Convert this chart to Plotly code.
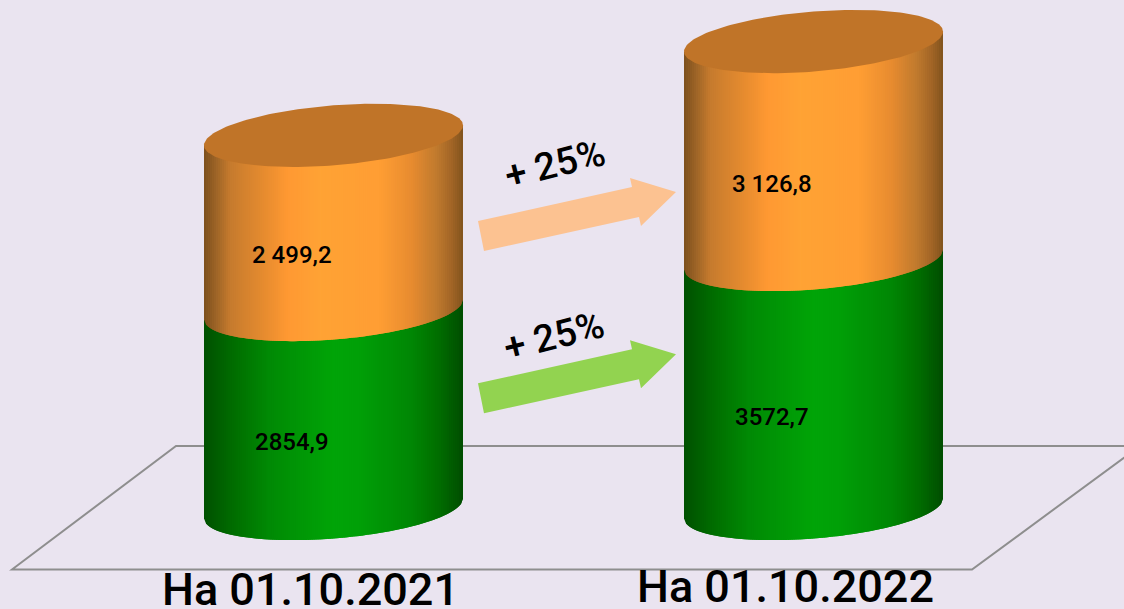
import numpy as np
import plotly.graph_objects as go

# ---- data ----
categories = ["На 01.10.2021", "На 01.10.2022"]
green_values = [2854.9, 3572.7]
orange_values = [2499.2, 3126.8]
green_labels = ["2854,9", "3572,7"]
orange_labels = ["2 499,2", "3 126,8"]
growth_labels = ["+ 25%", "+ 25%"]

# ---- layout constants ----
W, H = 1124, 609
BG = "#EAE4F0"
PX_PER_UNIT = 0.0697
BASE_PX = 508.5
CAT0_PX, CAT_STEP_PX = 333.5, 480.0
HALF_W = 129.5 / CAT_STEP_PX
B = 30 / PX_PER_UNIT       # ellipse half-height (value units)
S = 10 / PX_PER_UNIT       # ellipse tilt (value units)
N = 130

ORANGE_STOPS = [(0, (125, 80, 30)), (.05, (160, 102, 40)), (.1, (198, 123, 46)), (.25, (235, 142, 48)),
                (.32, (255, 153, 51)), (.45, (255, 163, 53)), (.68, (255, 158, 52)), (.8, (232, 140, 48)),
                (.9, (192, 122, 46)), (.96, (160, 100, 38)), (1, (130, 84, 30))]
GREEN_STOPS = [(0, (0, 80, 0)), (.1, (0, 107, 0)), (.25, (0, 138, 5)), (.5, (0, 165, 8)), (.6, (0, 160, 8)),
               (.8, (0, 135, 5)), (.9, (0, 112, 0)), (1, (0, 78, 0))]
TOP_COLOR = "#C07428"


def ramp(stops, t):
    xs = [p[0] for p in stops]
    return "rgb(%d,%d,%d)" % tuple(np.interp(t, xs, [p[1][k] for p in stops]) for k in range(3))


fig = go.Figure()


def side(cx, y0, y1, stops):
    """Shaded cylinder wall between the value levels y0 and y1."""
    edges = np.linspace(-1, 1, N + 1)
    for i in range(N):
        j = min(i + 2, N)
        u = np.array([edges[i], edges[(i + j) // 2], edges[j]])
        low = y0 + S * u - B * np.sqrt(np.clip(1 - u ** 2, 0, 1))
        up = y1 + S * u
        xs = cx + HALF_W * u
        fig.add_trace(go.Scatter(
            x=np.r_[xs, xs[::-1], xs[0]], y=np.r_[low, up[::-1], low[0]],
            mode="lines", line=dict(width=0), fill="toself",
            fillcolor=ramp(stops, (edges[i] + edges[i + 1]) / 4 + .5),
            hoverinfo="skip", showlegend=False))


def cap(cx, y, color):
    t = np.linspace(0, 2 * np.pi, 181)
    fig.add_trace(go.Scatter(
        x=cx + HALF_W * np.cos(t), y=y + S * np.cos(t) + B * np.sin(t),
        mode="lines", line=dict(width=0), fill="toself", fillcolor=color,
        hoverinfo="skip", showlegend=False))


for k in range(len(categories)):
    g, o = green_values[k], orange_values[k]
    side(k, 0, g, GREEN_STOPS)
    side(k, g, g + o, ORANGE_STOPS)
    cap(k, g + o, TOP_COLOR)
    for y, txt in ((g / 2, green_labels[k]), (g + o / 2, orange_labels[k])):
        fig.add_annotation(x=k, y=y, text=txt, showarrow=False, xshift=-42, yshift=-33,
                           font=dict(family="Roboto", size=24, color="black", weight=500))


def px(x, y):
    return x / W, 1 - y / H


def path(points):
    s = []
    for i, (x, y) in enumerate(points):
        a, b = px(x, y)
        s.append(("M" if i == 0 else "L") + f"{a:.5f},{b:.5f}")
    return " ".join(s)


shapes = [
    dict(type="path", xref="paper", yref="paper", layer="below",
         path=path([(12, 569.5), (176, 446), (1140, 446), (972, 569.5)]) + " Z",
         line=dict(color="#8E8E8E", width=2), fillcolor="rgba(0,0,0,0)"),
]
ARROW = [(478, 221), (632, 187), (630, 178), (676, 192), (641, 226), (639, 217), (484, 251)]
for dy, col in ((0, "#FCC291"), (162.3, "#92D350")):
    shapes.append(dict(type="path", xref="paper", yref="paper", layer="above",
                       path=path([(x, y + dy) for x, y in ARROW]) + " Z",
                       line=dict(width=0), fillcolor=col))

for txt, (x, y) in zip(growth_labels, [(555, 164), (554, 336)]):
    a, b = px(x, y)
    fig.add_annotation(xref="paper", yref="paper", x=a, y=b, text=txt, showarrow=False, textangle=-14,
                       xanchor="center", yanchor="middle",
                       font=dict(family="Roboto", size=38, color="black", weight=500))

for cat, (x, y) in zip(categories, [(310.5, 589), (785, 586)]):
    a, b = px(x, y)
    fig.add_annotation(xref="paper", yref="paper", x=a, y=b, text=cat, showarrow=False,
                       xanchor="center", yanchor="middle",
                       font=dict(family="Roboto", size=45, color="black", weight=500))

fig.update_layout(
    width=W, height=H, margin=dict(l=0, r=0, t=0, b=0), showlegend=False,
    paper_bgcolor=BG, plot_bgcolor=BG, shapes=shapes, hovermode=False,
    xaxis=dict(range=[-CAT0_PX / CAT_STEP_PX, (W - CAT0_PX) / CAT_STEP_PX], visible=False, fixedrange=True),
    yaxis=dict(range=[-(H - BASE_PX) / PX_PER_UNIT, BASE_PX / PX_PER_UNIT], visible=False, fixedrange=True),
)

fig.write_html("out.html", config={"displayModeBar": False},
               post_script="document.body.style.margin='0';document.body.style.overflow='hidden';")
